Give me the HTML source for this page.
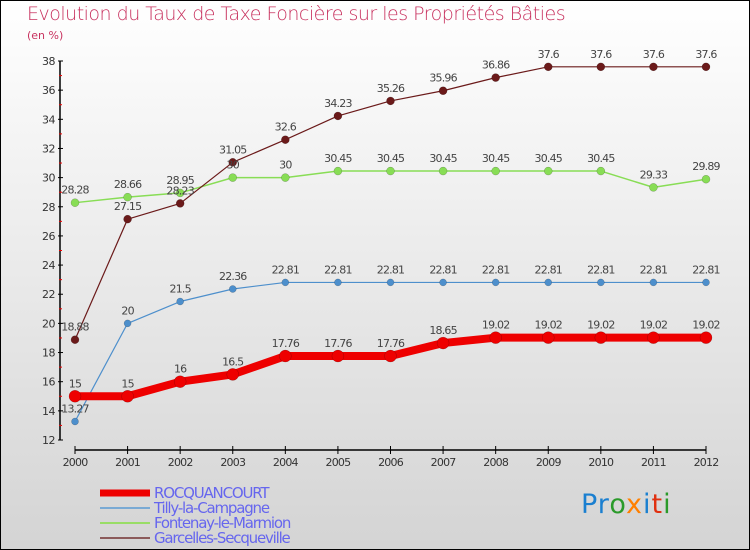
<!DOCTYPE html>
<html><head><meta charset="utf-8"><style>
body{margin:0;}
#wrap{position:relative;width:748px;height:548px;border:1px solid #000;background:linear-gradient(#ffffff,#d4d4d4);font-family:"DejaVu Sans","Liberation Sans",sans-serif;overflow:hidden}
.t{position:absolute;color:#c8325f}
</style></head><body>
<div id="wrap">
<div class="t" style="left:26px;top:2px;font-size:19px;font-weight:300;letter-spacing:-0.5px">Evolution du Taux de Taxe Foncière sur les Propriétés Bâties</div>
<div class="t" style="left:26px;top:28px;font-size:11px">(en %)</div>
<svg id="svg" width="750" height="550" style="position:absolute;left:-1px;top:-1px"></svg>
<div style="position:absolute;left:580px;top:488px;font-size:27px;font-family:'DejaVu Sans',sans-serif;letter-spacing:1px"><span style="color:#1a7fd0">Pr</span><span style="color:#2a9a2a">o</span><span style="color:#ff8000">x</span><span style="color:#1a7fd0">i</span><span style="color:#e03010">t</span><span style="color:#2a9a2a">i</span></div>
</div>
<script>
const years=[2000,2001,2002,2003,2004,2005,2006,2007,2008,2009,2010,2011,2012];
const rocq=[15,15,16,16.5,17.76,17.76,17.76,18.65,19.02,19.02,19.02,19.02,19.02];
const tilly=[13.27,20,21.5,22.36,22.81,22.81,22.81,22.81,22.81,22.81,22.81,22.81,22.81];
const font=[28.28,28.66,28.95,30,30,30.45,30.45,30.45,30.45,30.45,30.45,29.33,29.89];
const garc=[18.88,27.15,28.23,31.05,32.6,34.23,35.26,35.96,36.86,37.6,37.6,37.6,37.6];
const yTicks=[12,14,16,18,20,22,24,26,28,30,32,34,36,38];
const names=["ROCQUANCOURT","Tilly-la-Campagne","Fontenay-le-Marmion","Garcelles-Secqueville"];
const NS="http://www.w3.org/2000/svg";
const svg=document.getElementById('svg');
const X=i=>75+i*(706-75)/12;
const Y=v=>440-(v-12)*(440-61)/26;
function el(t,a){const e=document.createElementNS(NS,t);for(const k in a)e.setAttribute(k,a[k]);svg.appendChild(e);return e;}
let e;
e=el('line',{x1:60,y1:61,x2:60,y2:440,stroke:'#000','stroke-width':1.5});


e=el('line',{x1:75,y1:450,x2:706,y2:450,stroke:'#000','stroke-width':1.5});


yTicks.forEach((v,i)=>{
 el('line',{x1:58,x2:63,y1:Y(v),y2:Y(v),stroke:'#000'});
 if(i<yTicks.length-1) el('line',{x1:59,x2:62,y1:Y(v+1),y2:Y(v+1),stroke:'#e00'});
 const t=el('text',{x:55,y:Y(v)+4,'text-anchor':'end','font-size':11,fill:'#333','font-family':'DejaVu Sans, sans-serif','letter-spacing':'-0.5'});
 t.textContent=v;
 
 
});
years.forEach((y,i)=>{
 el('line',{x1:X(i),x2:X(i),y1:446,y2:454,stroke:'#000'});
 const t=el('text',{x:X(i),y:466,'text-anchor':'middle','font-size':11,fill:'#333','font-family':'DejaVu Sans, sans-serif','letter-spacing':'-0.8'});
 t.textContent=y;
 
 
});
function series(data,color,w,r,nm){
 const p=el('polyline',{points:data.map((v,i)=>X(i)+','+Y(v)).join(' '),fill:'none',stroke:color,'stroke-width':w,'stroke-linejoin':'round'});
 
 
 data.forEach((v,i)=>{
  const c=el('circle',{cx:X(i),cy:Y(v),r:r,fill:color,stroke:'rgba(0,0,0,0.3)','stroke-width':0.5});
  
  
 });
}
function labels(data,nm){
 data.forEach((v,i)=>{
  const t=el('text',{x:X(i),y:Y(v)-9,'text-anchor':'middle','font-size':11,fill:'#444','font-family':'DejaVu Sans, sans-serif','letter-spacing':'-0.8'});
  t.textContent=v;
  
  
 });
}
series(font,'#88dd55',1.5,4,'fontenay');
series(garc,'#6b1a1a',1.2,4,'garcelles');
series(tilly,'#4d8fcc',1.2,3.5,'tilly');
series(rocq,'#ee0000',8,6,'rocquancourt');
labels(font,'fontenay');labels(garc,'garcelles');labels(tilly,'tilly');labels(rocq,'rocquancourt');
const lc=['#ee0000','#7aaad4','#99dd66','#8b5a5a'],lw=[7,2,2,2];
names.forEach((n,i)=>{
 const y=492+i*15;
 const l=el('line',{x1:100,x2:150,y1:y+1,y2:y+1,stroke:lc[i],'stroke-width':lw[i]});
 
 
 const t=el('text',{x:154,y:y+6,'font-size':15,fill:'#6666ee','font-family':'DejaVu Sans, sans-serif','letter-spacing':'-1.2'});
 t.textContent=n;
 
 
});
</script>
</body></html>
